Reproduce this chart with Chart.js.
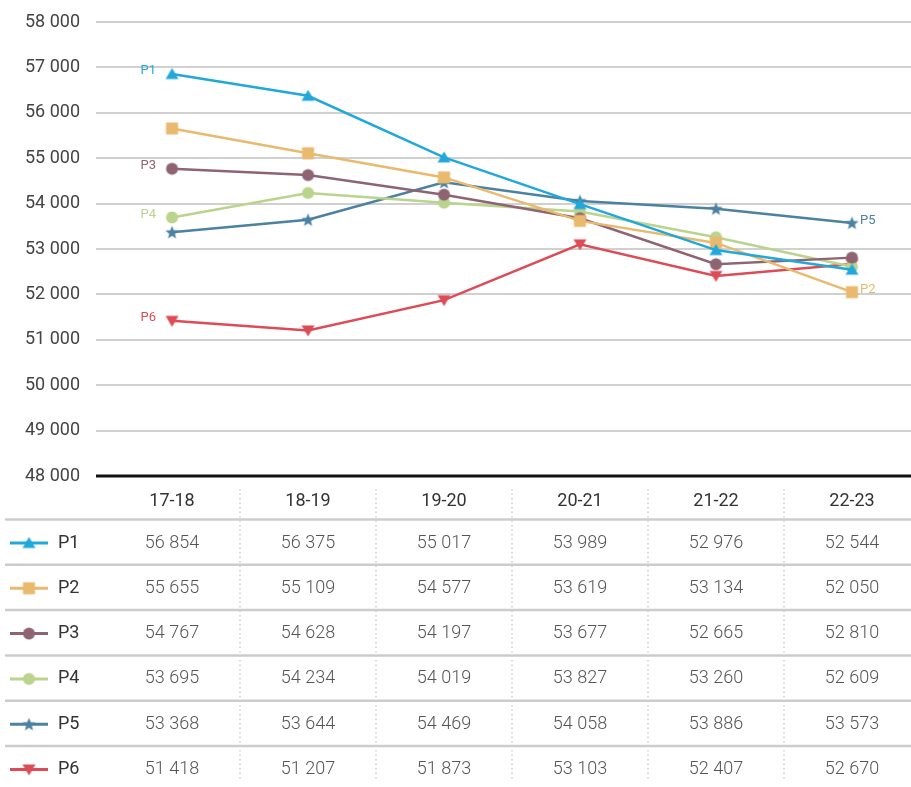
<!DOCTYPE html>
<html>
<head>
<meta charset="utf-8">
<script src="https://cdn.jsdelivr.net/npm/chart.js@4/dist/chart.umd.min.js"></script>
<style>
  html, body { margin: 0; padding: 0; background: #fff; }
  canvas { display: block; }
</style>
</head>
<body>
<canvas id="myChart" width="911" height="787"></canvas>
<script>
// data
const years = ['17-18', '18-19', '19-20', '20-21', '21-22', '22-23'];
const names = ['P1', 'P2', 'P3', 'P4', 'P5', 'P6'];
const p1 = [56854, 56375, 55017, 53989, 52976, 52544];
const p2 = [55655, 55109, 54577, 53619, 53134, 52050];
const p3 = [54767, 54628, 54197, 53677, 52665, 52810];
const p4 = [53695, 54234, 54019, 53827, 53260, 52609];
const p5 = [53368, 53644, 54469, 54058, 53886, 53573];
const p6 = [51418, 51207, 51873, 53103, 52407, 52670];
const yMin = 48000, yMax = 58000, yStep = 1000;

const colors = ['#20a8da', '#e9b96e', '#8f6472', '#bad38d', '#4b81a1', '#dd4b56'];
const shapes = ['triangle', 'square', 'circle', 'circle', 'star', 'down'];
// where the small name label sits next to the line
const labelSide = ['start', 'end', 'start', 'start', 'end', 'start'];
const FONT = 'Roboto, "Noto Sans", sans-serif';

function fmt(v) {
    return String(v).replace(/\B(?=(\d{3})+(?!\d))/g, ' ');
}

function makeMarker(shape, color) {
    const size = 15;
    const c = document.createElement('canvas');
    c.width = size;
    c.height = size;
    const g = c.getContext('2d');
    const m = size / 2;
    g.fillStyle = color;
    g.beginPath();
    if (shape === 'triangle') {
        g.moveTo(m, 1.5);
        g.lineTo(m + 6.5, 12.5);
        g.lineTo(m - 6.5, 12.5);
    } else if (shape === 'down') {
        g.moveTo(m, 13.5);
        g.lineTo(m + 6.5, 2.5);
        g.lineTo(m - 6.5, 2.5);
    } else if (shape === 'square') {
        g.rect(m - 6, m - 6, 12, 12);
    } else if (shape === 'circle') {
        g.arc(m, m, 6, 0, Math.PI * 2);
    } else if (shape === 'star') {
        for (let i = 0; i < 10; i++) {
            const r = i % 2 === 0 ? 7 : 3;
            const a = -Math.PI / 2 + i * Math.PI / 5;
            const px = m + r * Math.cos(a), py = m + 0.5 + r * Math.sin(a);
            if (i === 0) g.moveTo(px, py); else g.lineTo(px, py);
        }
    }
    g.closePath();
    g.fill();
    return c;
}

const markers = shapes.map((s, i) => makeMarker(s, colors[i]));
const allSeries = [p1, p2, p3, p4, p5, p6];

const tablePlugin = {
    id: 'tablePlugin',
    beforeDatasetsDraw(chart) {
        const ctx = chart.ctx;
        const area = chart.chartArea;
        ctx.save();
        ctx.strokeStyle = '#111';
        ctx.lineWidth = 3;
        ctx.beginPath();
        ctx.moveTo(area.left, area.bottom);
        ctx.lineTo(chart.width, area.bottom);
        ctx.stroke();
        ctx.restore();
    },
    afterDatasetsDraw(chart) {
        const ctx = chart.ctx;
        const xs = chart.scales.x;
        ctx.save();

        // name labels beside the lines
        ctx.font = '13px ' + FONT;
        ctx.textBaseline = 'middle';
        chart.data.datasets.forEach(function(ds, i) {
            const pts = chart.getDatasetMeta(i).data;
            ctx.fillStyle = colors[i];
            if (labelSide[i] === 'start') {
                ctx.textAlign = 'right';
                ctx.fillText(names[i], pts[0].x - 16, pts[0].y - 3);
            } else {
                const p = pts[pts.length - 1];
                ctx.textAlign = 'left';
                ctx.fillText(names[i], p.x + 8, p.y - 2);
            }
        });

        // data table
        const headY = 501;
        const lineY0 = 519.5;
        const rowH = 45.3;

        // dotted column separators
        ctx.strokeStyle = '#cfcfcf';
        ctx.lineWidth = 1.5;
        ctx.setLineDash([1.5, 3]);
        for (let i = 0; i < years.length - 1; i++) {
            const x = Math.round(xs.getPixelForValue(i + 0.5));
            ctx.beginPath();
            ctx.moveTo(x, 489);
            ctx.lineTo(x, 781);
            ctx.stroke();
        }
        ctx.setLineDash([]);

        // row lines
        ctx.strokeStyle = '#cccccc';
        ctx.lineWidth = 2.5;
        for (let k = 0; k < names.length; k++) {
            const y = lineY0 + rowH * k;
            ctx.beginPath();
            ctx.moveTo(5, y);
            ctx.lineTo(chart.width, y);
            ctx.stroke();
        }

        // header
        ctx.textAlign = 'center';
        ctx.textBaseline = 'middle';
        ctx.font = '18px ' + FONT;
        ctx.fillStyle = '#333';
        years.forEach(function(y, i) {
            ctx.fillText(y, xs.getPixelForValue(i), headY);
        });

        // rows
        allSeries.forEach(function(vals, k) {
            const y = lineY0 + rowH * k + 23.5;
            // legend key
            ctx.strokeStyle = colors[k];
            ctx.lineWidth = 3;
            ctx.beginPath();
            ctx.moveTo(10, y);
            ctx.lineTo(48, y);
            ctx.stroke();
            const mk = markers[k];
            ctx.drawImage(mk, 29 - mk.width / 2, y - mk.height / 2);

            ctx.textAlign = 'left';
            ctx.font = '18px ' + FONT;
            ctx.fillStyle = '#333';
            ctx.fillText(names[k], 58, y);

            ctx.textAlign = 'center';
            ctx.font = '300 18px ' + FONT;
            ctx.fillStyle = '#555';
            vals.forEach(function(v, i) {
                ctx.fillText(fmt(v), xs.getPixelForValue(i), y);
            });
        });
        ctx.restore();
    }
};

const ctx = document.getElementById('myChart').getContext('2d');
const chart = new Chart(ctx, {
    type: 'line',
    data: {
        datasets: allSeries.map(function(vals, i) {
            return {
                label: names[i],
                data: vals.map((v, j) => ({ x: j, y: v })),
                borderColor: colors[i],
                backgroundColor: colors[i],
                borderWidth: 2.5,
                pointStyle: markers[i],
                pointRadius: 6,
                tension: 0,
                fill: false,
                clip: false
            };
        })
    },
    options: {
        responsive: false,
        animation: false,
        devicePixelRatio: 1,
        layout: { autoPadding: false, padding: { top: 22, bottom: 311, left: 0, right: 0 } },
        plugins: {
            legend: { display: false },
            tooltip: { enabled: false }
        },
        scales: {
            x: {
                type: 'linear',
                min: -0.559,
                max: 5.434,
                display: false
            },
            y: {
                min: yMin,
                max: yMax,
                afterFit: function(s) {
                    s.width = 96;
                    s.paddingTop = 0;
                    s.paddingBottom = 0;
                },
                border: { display: false },
                grid: { color: '#d0d0d0', lineWidth: 2, drawTicks: false },
                ticks: {
                    stepSize: yStep,
                    padding: 16,
                    color: '#444',
                    font: { family: FONT, size: 18 },
                    callback: function(v) { return fmt(v); }
                }
            }
        }
    },
    plugins: [tablePlugin]
});
</script>
</body>
</html>
